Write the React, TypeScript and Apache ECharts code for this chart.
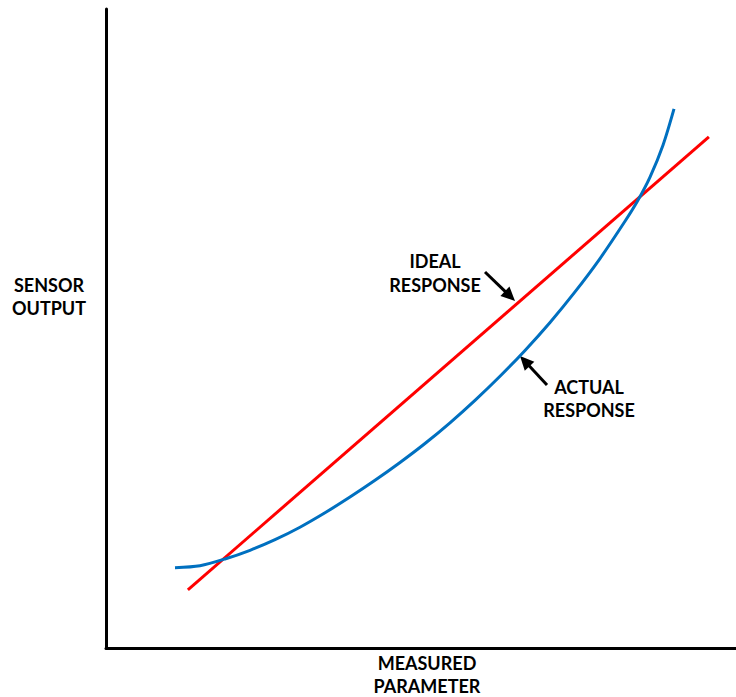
import React, { useEffect, useRef } from "react";
import * as echarts from "echarts";

const idealX = [13.0, 95.7];
const idealY = [9.1, 80.0];

const actualX = [10.95, 14.92, 18.89, 22.86, 26.83, 30.79, 34.76, 38.73, 42.7, 46.67, 50.63, 54.6, 58.57, 62.54, 66.51, 70.48, 74.44, 78.41, 82.38, 84.37, 86.35, 88.41, 90.16];
const actualY = [12.57, 12.88, 13.93, 15.29, 16.95, 18.9, 21.16, 23.62, 26.24, 29.03, 32.0, 35.24, 38.75, 42.52, 46.57, 50.95, 55.73, 60.95, 66.78, 69.95, 73.69, 78.69, 84.37];

const yAxisLabel = ["SENSOR", "OUTPUT"];
const xAxisLabel = ["MEASURED", "PARAMETER"];
const idealLabel = ["IDEAL", "RESPONSE"];
const actualLabel = ["ACTUAL", "RESPONSE"];

const FONT = "Lato, 'Open Sans', sans-serif";

function arrow(tail: [number, number], tip: [number, number]) {
  const dx = tip[0] - tail[0];
  const dy = tip[1] - tail[1];
  const len = Math.hypot(dx, dy);
  const ux = dx / len;
  const uy = dy / len;
  const headLen = 14;
  const halfW = 6.5;
  const bx = tip[0] - ux * headLen;
  const by = tip[1] - uy * headLen;
  const px = -uy * halfW;
  const py = ux * halfW;
  return [
    {
      type: "line",
      shape: { x1: tail[0], y1: tail[1], x2: bx + ux * 2, y2: by + uy * 2 },
      style: { stroke: "#000", lineWidth: 3 },
    },
    {
      type: "polygon",
      shape: { points: [[tip[0], tip[1]], [bx + px, by + py], [bx - px, by - py]] },
      style: { fill: "#000" },
    },
  ];
}

function textBlock(lines: string[], cx: number, cy: number[]) {
  return lines.map((t, i) => ({
    type: "text",
    x: cx,
    y: cy[i],
    style: {
      text: t,
      fill: "#000",
      font: `bold 18px ${FONT}`,
      align: "center",
      verticalAlign: "middle",
    },
  }));
}

export default function App() {
  const ref = useRef<HTMLDivElement>(null);
  useEffect(() => {
    document.body.style.margin = "0";
    if (!ref.current) return;
    const chart = echarts.init(ref.current, undefined, { renderer: "svg" });
    chart.setOption({
      animation: false,
      backgroundColor: "#fff",
      grid: { left: 106, right: 0, top: 9, bottom: 49 },
      xAxis: {
        type: "value",
        min: 0,
        max: 100,
        axisLine: { show: true, lineStyle: { color: "#000", width: 3 } },
        axisTick: { show: false },
        axisLabel: { show: false },
        splitLine: { show: false },
      },
      yAxis: {
        type: "value",
        min: 0,
        max: 100,
        axisLine: { show: true, lineStyle: { color: "#000", width: 3 } },
        axisTick: { show: false },
        axisLabel: { show: false },
        splitLine: { show: false },
      },
      series: [
        {
          name: "Ideal Response",
          type: "line",
          data: idealX.map((x, i) => [x, idealY[i]]),
          showSymbol: false,
          lineStyle: { color: "#FF0000", width: 3 },
        },
        {
          name: "Actual Response",
          type: "line",
          data: actualX.map((x, i) => [x, actualY[i]]),
          smooth: 0.3,
          showSymbol: false,
          lineStyle: { color: "#0070C0", width: 3 },
        },
      ],
      graphic: [
        ...textBlock(yAxisLabel, 49, [285, 308]),
        ...textBlock(xAxisLabel, 427, [663, 686]),
        ...textBlock(idealLabel, 435, [261, 285]),
        ...textBlock(actualLabel, 589, [387, 410]),
        ...arrow([485, 272], [515, 301]),
        ...arrow([547, 385], [520, 356]),
      ],
    });
    return () => chart.dispose();
  }, []);
  return <div ref={ref} style={{ width: 736, height: 697 }} />;
}
